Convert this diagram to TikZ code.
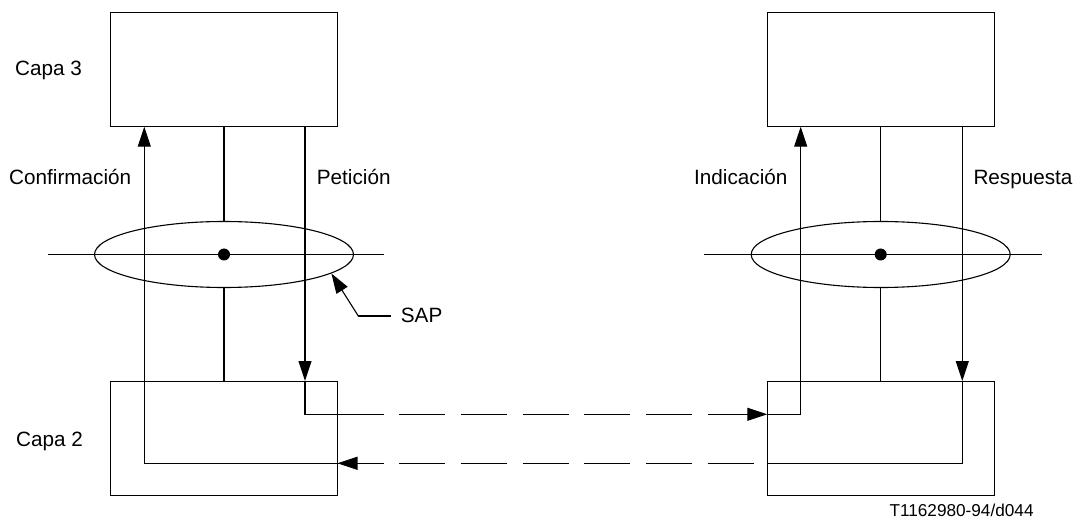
\documentclass[tikz,border=0pt]{standalone}
\usepackage{fontspec}
\setmainfont{Liberation Sans}
\usetikzlibrary{arrows.meta,shapes.geometric}
\begin{document}
\begin{tikzpicture}[x=1pt,y=-1pt,
  ln/.style={line width=1.1pt},
  arr/.style={ln,-{Triangle[length=20pt,width=13pt]}},
  dashline/.style={ln,dash pattern=on 46pt off 15.7pt},
  layerbox/.style={draw,ln,minimum width=227pt,minimum height=114.5pt,inner sep=0pt},
  sapell/.style={draw,ln,ellipse,minimum width=259pt,minimum height=66pt,inner sep=0pt},
  dotnode/.style={circle,fill,minimum size=12pt,inner sep=0pt},
  lbl/.style={anchor=base west,inner sep=0pt,font=\fontsize{20.7}{24}\selectfont},
  small/.style={anchor=base west,inner sep=0pt,font=\fontsize{17.2}{20}\selectfont}]
\useasboundingbox (0,0) rectangle (1076,521);
% boxes
\node[layerbox] (tl) at (224,69.7) {};
\node[layerbox] (bl) at (224,438.5) {};
\node[layerbox] (tr) at (880.7,69.7) {};
\node[layerbox] (br) at (880.7,438.5) {};
% SAP lines and ellipses
\coordinate (hlA) at (47.7,254.5);
\coordinate (hlB) at (384.3,254.5);
\coordinate (hrA) at (704,254.5);
\coordinate (hrB) at (1041.7,254.5);
\draw[ln] (hlA) -- (hlB);
\draw[ln] (hrA) -- (hrB);
\node[sapell] (sapL) at (224,254.5) {};
\node[sapell] (sapR) at (880.7,254.5) {};
\node[dotnode] (dotL) at (sapL.center) {};
\node[dotnode] (dotR) at (sapR.center) {};
\draw[ln] (tl.south) -- (sapL.north);
\draw[ln] (sapL.south) -- (bl.north);
\draw[ln] (tr.south) -- (sapR.north);
\draw[ln] (sapR.south) -- (br.north);
% key coordinates
\coordinate (cfB) at (144.3,463.3);
\coordinate (cfT) at (144.3,126.7);
\coordinate (peT) at (305,126.7);
\coordinate (peM) at (305,381);
\coordinate (peB) at (305,414.3);
\coordinate (upL) at (337.5,414.3);
\coordinate (upLa) at (317.5,414.3);
\coordinate (upR) at (767.3,414.3);
\coordinate (upRa) at (747.3,414.3);
\coordinate (inB) at (800.7,414.3);
\coordinate (inT) at (800.7,126.7);
\coordinate (reT) at (962.3,126.7);
\coordinate (reM) at (962.3,381);
\coordinate (reB) at (962.3,463.3);
\coordinate (loR) at (767.3,463.3);
\coordinate (loL) at (337.5,463.3);
\coordinate (loLa) at (357.5,463.3);
% Confirmacion
\draw[arr] (cfB) -- (cfT);
\draw[ln] (loL) -- (cfB);
% Peticion
\draw[arr] (peT) -- (peM);
\draw[ln] (peM) -- (peB) -- (upL);
\draw[dashline] (upL) -- (upR);
\draw[arr] (upRa) -- (upR);
% Indicacion
\draw[ln] (upR) -- (inB);
\draw[arr] (inB) -- (inT);
% Respuesta
\draw[arr] (reT) -- (reM);
\draw[ln] (reM) -- (reB) -- (loR);
\draw[dashline] (loL) -- (loR);
\draw[arr] (loLa) -- (loL);
% SAP pointer
\coordinate (sapK) at (358.3,316);
\coordinate (sapE) at (390.7,316);
\draw[arr] (sapK) -- (sapL.-10);
\draw[ln] (sapK) -- (sapE);
% labels
\node[lbl] (capa3) at (15,75.3) {Capa 3};
\node[lbl] (capa2) at (16,446.5) {Capa 2};
\node[lbl] (conf) at (9,184.3) {Confirmación};
\node[lbl] (pet) at (316.7,184.3) {Petición};
\node[lbl] (ind) at (694,184.3) {Indicación};
\node[lbl] (resp) at (973.3,184.3) {Respuesta};
\node[lbl] (sap) at (400.7,322.7) {SAP};
\node[small] (ref) at (889.3,516.3) {T1162980-94/d044};
\end{tikzpicture}
\end{document}
